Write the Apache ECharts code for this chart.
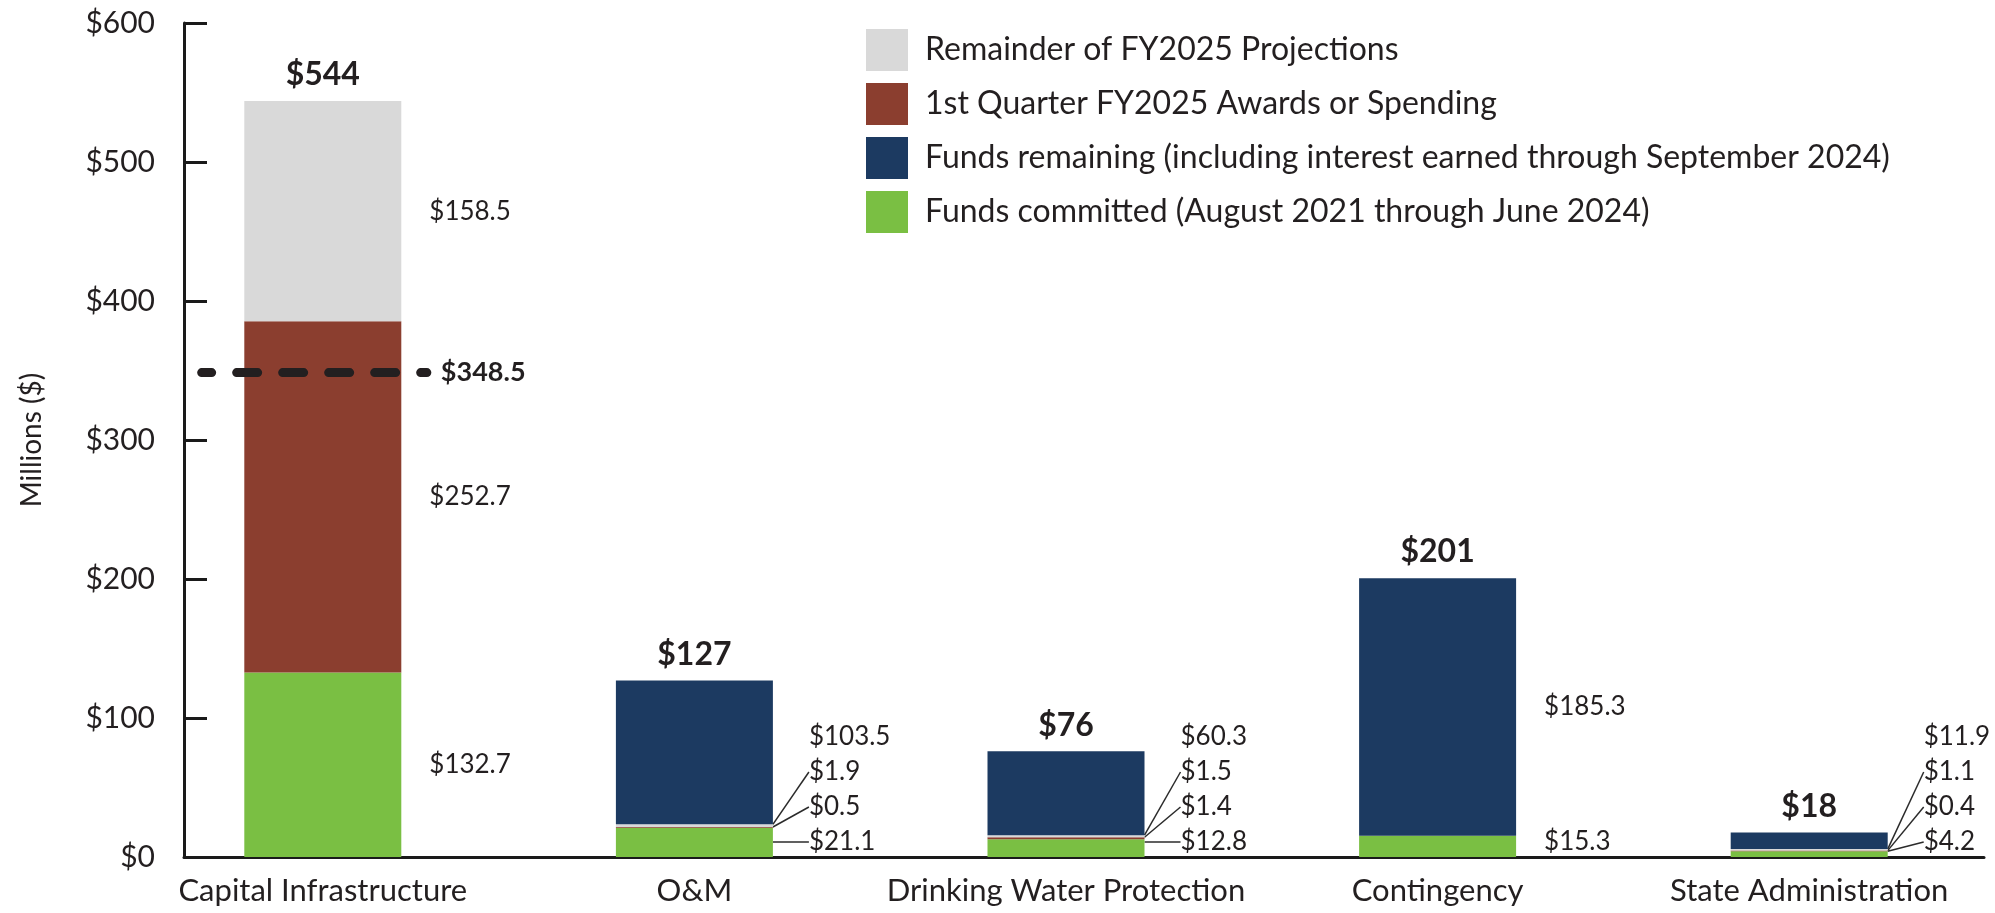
<!DOCTYPE html>
<html>
<head>
<meta charset="utf-8">
<script src="https://cdn.jsdelivr.net/npm/echarts@6/dist/echarts.min.js"></script>
<style>
  html, body { margin: 0; padding: 0; background: #ffffff; }
  #chart { width: 1995px; height: 913px; }
</style>
</head>
<body>
<div id="chart"></div>
<script>
// ---------------- data ----------------
const categories = ['Capital Infrastructure', 'O&M', 'Drinking Water Protection', 'Contingency', 'State Administration'];
const fundsCommitted = [132.7, 21.1, 12.8, 15.3, 4.2];     // green, bottom of stack
const q1Spending = [252.7, 0.5, 1.4, 0, 0.4];               // red
const remainderProjections = [158.5, 1.9, 1.5, 0, 1.1];     // gray
const fundsRemaining = [0, 103.5, 60.3, 185.3, 11.9];       // blue, top of stack
const totalLabels = [544, 127, 76, 201, 18];
const referenceValue = 348.5;
const referenceSpan = [-0.326, 0.280];   // extent of the dashed reference line around the first category (band units)
const yMin = 0, yMax = 600, yInterval = 100;

const legendNames = {
  remainder: 'Remainder of FY2025 Projections',
  q1: '1st Quarter FY2025 Awards or Spending',
  remaining: 'Funds remaining (including interest earned through September 2024)',
  committed: 'Funds committed (August 2021 through June 2024)'
};

// ---------------- layout / style ----------------
const FONT = 'Lato, "Noto Sans", sans-serif';
const TEXT = '#231f20';
const GRID_TOP = 23, PLOT_H = 834;
const BAR_LEFT = 137, BAR_WIDTH_TOTAL = 1873.5;
const FRAME_LEFT = 184, FRAME_RIGHT = 11;
const BASE = GRID_TOP + PLOT_H;
const PX = PLOT_H / (yMax - yMin);
const MAX_LABEL_Y = 842, LABEL_STEP = 35, LABEL_DX = 28, LABEL_DX_CROWDED = 36, LINE_GAP = 9;
const colors = { committed: '#7abf43', q1: '#8b3e2f', remainder: '#d9d9d9', remaining: '#1c3a61' };
const REF_DASH = [10, 25, 21, 25, 21, 25, 21, 25, 21, 25, 21, 25, 21, 25];

const levels = [fundsCommitted, q1Spending, remainderProjections, fundsRemaining];

function layoutFor(ci) {
  let cum = 0, prev = Infinity, crowded = false;
  const out = [];
  for (let k = 0; k < levels.length; k++) {
    const v = levels[k][ci];
    if (!v) { out.push(null); continue; }
    const c = BASE - (cum + v / 2) * PX;
    cum += v;
    const y = Math.min(c, MAX_LABEL_Y, prev - LABEL_STEP);
    if (c - y > 8) crowded = true;
    out.push({ c: c, y: y });
    prev = y;
  }
  let top = -1;
  out.forEach((o, k) => { if (o) top = k; });
  out.forEach((o, k) => { if (o) { o.line = crowded && k !== top; o.crowded = crowded; } });
  return out;
}

function makeLayout(level) {
  return function (params) {
    const info = layoutFor(params.dataIndex)[level];
    const r = params.rect;
    const right = r.x + r.width;
    if (!info) return {};
    let lx = right + (info.crowded ? LABEL_DX_CROWDED : LABEL_DX);
    if (info.line) lx -= LINE_GAP;   // label carries a left padding of LINE_GAP
    const res = { x: lx, y: info.y, align: 'left', verticalAlign: 'middle' };
    if (info.line) {
      res.labelLinePoints = [[right + 7, info.c], [lx, info.y]];
    }
    return res;
  };
}

function segLabelFmt(p) {
  return p.value ? '$' + Number(p.value).toFixed(1) : '';
}

function barSeries(name, data, color, level) {
  return {
    name: name,
    type: 'bar',
    xAxisIndex: 0, yAxisIndex: 0,
    stack: 'total',
    data: data.map((v, i) => {
      const info = layoutFor(i)[level];
      const hasLine = !!(info && info.line);
      return {
        value: v,
        labelLine: { show: hasLine },
        label: { padding: hasLine ? [0, 0, 0, LINE_GAP] : 0 }
      };
    }),
    barWidth: 157,
    itemStyle: { color: color },
    label: {
      show: true, position: 'right', formatter: segLabelFmt,
      fontFamily: FONT, fontSize: 26, color: TEXT
    },
    labelLine: { show: false, lineStyle: { color: '#2b2b2b', width: 1.5 } },
    labelLayout: makeLayout(level),
    z: 2
  };
}

const chart = echarts.init(document.getElementById('chart'), null, { renderer: 'canvas' });

const option = {
  animation: false,
  backgroundColor: '#ffffff',
  textStyle: { fontFamily: FONT },
  legend: {
    orient: 'vertical',
    left: 866, top: 29,
    itemWidth: 42, itemHeight: 42, itemGap: 12,
    icon: 'rect',
    padding: 0,
    data: [legendNames.remainder, legendNames.q1, legendNames.remaining, legendNames.committed],
    textStyle: { fontFamily: FONT, fontSize: 32, color: TEXT, padding: [0, 0, 0, 12] },
    selectedMode: false
  },
  grid: [
    { left: BAR_LEFT, top: GRID_TOP, width: BAR_WIDTH_TOTAL, height: PLOT_H },
    { left: FRAME_LEFT, top: GRID_TOP, right: FRAME_RIGHT, height: PLOT_H }
  ],
  xAxis: [
    {
      type: 'category', gridIndex: 0, data: categories,
      axisLine: { show: false }, axisTick: { show: false },
      axisLabel: { interval: 0, margin: 18, fontFamily: FONT, fontSize: 31, color: TEXT }
    },
    {
      type: 'value', gridIndex: 1, min: 0, max: 1,
      axisLine: { show: true, lineStyle: { color: '#1a1a1a', width: 3 } },
      axisTick: { show: false }, axisLabel: { show: false }, splitLine: { show: false }
    },
    {
      type: 'value', gridIndex: 0, min: -0.5, max: categories.length - 0.5, show: false
    }
  ],
  yAxis: [
    { type: 'value', gridIndex: 0, min: yMin, max: yMax, show: false },
    {
      type: 'value', gridIndex: 1, min: yMin, max: yMax, interval: yInterval,
      name: 'Millions ($)', nameLocation: 'middle', nameGap: 138,
      nameTextStyle: { fontFamily: FONT, fontSize: 28, color: TEXT },
      axisLine: { show: true, lineStyle: { color: '#1a1a1a', width: 3 } },
      axisTick: { show: true, inside: true, length: 23, lineStyle: { color: '#1a1a1a', width: 3 } },
      axisLabel: { margin: 29, fontFamily: FONT, fontSize: 30, color: TEXT, formatter: v => '$' + v },
      splitLine: { show: false }
    }
  ],
  series: [
    barSeries(legendNames.committed, fundsCommitted, colors.committed, 0),
    barSeries(legendNames.q1, q1Spending, colors.q1, 1),
    barSeries(legendNames.remainder, remainderProjections, colors.remainder, 2),
    barSeries(legendNames.remaining, fundsRemaining, colors.remaining, 3),
    {
      name: 'Total', type: 'scatter', xAxisIndex: 0, yAxisIndex: 0,
      symbolSize: 0,
      itemStyle: { opacity: 1 },
      data: categories.map((c, i) => levels.reduce((s, arr) => s + arr[i], 0)),
      label: {
        show: true, position: 'top', distance: 10,
        formatter: p => '$' + totalLabels[p.dataIndex],
        fontFamily: FONT, fontSize: 32, fontWeight: 'bold', color: TEXT, opacity: 1
      },
      z: 5
    },
    {
      name: 'Reference', type: 'line', xAxisIndex: 2, yAxisIndex: 0,
      data: referenceSpan.map(x => [x, referenceValue]),
      symbol: 'none',
      lineStyle: { color: '#231f20', width: 9, type: REF_DASH, cap: 'round' },
      endLabel: {
        show: true, distance: 14,
        formatter: () => '$' + referenceValue.toFixed(1),
        fontFamily: FONT, fontSize: 27, fontWeight: 'bold', color: TEXT
      },
      z: 6
    }
  ]
};

chart.setOption(option);
</script>
</body>
</html>
